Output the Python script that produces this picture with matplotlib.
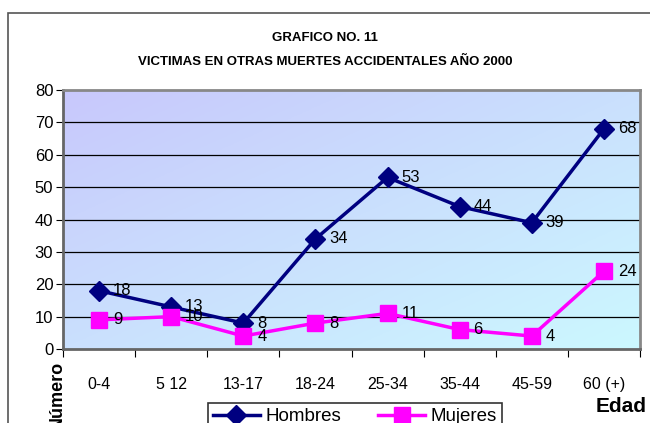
import numpy as np
import matplotlib.pyplot as plt
from matplotlib.colors import LinearSegmentedColormap
from matplotlib.patches import Rectangle

# Data
categories = ["0-4", "5 12", "13-17", "18-24", "25-34", "35-44", "45-59", "60 (+)"]
hombres = [18, 13, 8, 34, 53, 44, 39, 68]
mujeres = [9, 10, 4, 8, 11, 6, 4, 24]

fig = plt.figure(figsize=(6.5, 4.23), dpi=100)
fig.patch.set_facecolor("white")

# Outer chart border (cut at bottom and right)
fig.add_artist(Rectangle((8 / 650, -0.1), 1.2, 1 - 13 / 423 + 0.1,
                         transform=fig.transFigure, fill=False,
                         edgecolor="#555555", linewidth=1.2))

ax = fig.add_axes([63 / 650, 1 - 349 / 423, 577 / 650, 259 / 423])

x = np.arange(len(categories))
ax.set_xlim(-0.5, len(categories) - 0.5)
ax.set_ylim(0, 80)

# Diagonal gradient background: lavender top-left -> light cyan bottom-right
gx, gy = np.meshgrid(np.linspace(0, 1, 200), np.linspace(0, 1, 200))
grad = (gx + gy) / 2
cmap = LinearSegmentedColormap.from_list("bg", ["#C8C8FC", "#CCF8FF"])
ax.imshow(grad, extent=[-0.5, len(categories) - 0.5, 0, 80], origin="upper",
          aspect="auto", cmap=cmap, zorder=0)

# Gridlines
for v in range(10, 80, 10):
    ax.axhline(v, color="black", linewidth=0.9, zorder=1)

ax.plot(x, hombres, color="#000080", linewidth=2.5, marker="D",
        markersize=10, label="Hombres", zorder=3)
ax.plot(x, mujeres, color="#FF00FF", linewidth=2.5, marker="s",
        markersize=12, label="Mujeres", zorder=3)

for xi, v in zip(x, hombres):
    ax.annotate(str(v), (xi, v), xytext=(10, 0), textcoords="offset points",
                fontsize=12, va="center", ha="left", family="Liberation Sans")
for xi, v in zip(x, mujeres):
    ax.annotate(str(v), (xi, v), xytext=(10, 0), textcoords="offset points",
                fontsize=12, va="center", ha="left", family="Liberation Sans")

ax.set_yticks(range(0, 81, 10))
ax.set_yticklabels([str(v) for v in range(0, 81, 10)], fontsize=12,
                   family="Liberation Sans")
ax.set_xticks(np.arange(-0.5, len(categories), 1))
ax.set_xticklabels([])
ax.set_xticks(x, minor=True)
ax.set_xticklabels(categories, minor=True, fontsize=11.5, family="Liberation Sans")
ax.tick_params(axis="x", which="major", length=6, direction="out", color="black")
ax.tick_params(axis="x", which="minor", length=0, pad=20)
ax.tick_params(axis="y", length=5, direction="out", color="black", pad=2)

for side in ["top", "right"]:
    ax.spines[side].set_color("#888888")
    ax.spines[side].set_linewidth(2)
ax.spines["left"].set_color("#666666")
ax.spines["left"].set_linewidth(2)
ax.spines["bottom"].set_color("#666666")
ax.spines["bottom"].set_linewidth(2)

fig.text(0.5, 1 - 38 / 423, "GRAFICO NO. 11", ha="center", va="center",
         fontsize=9.5, fontweight="bold", family="Liberation Sans")
fig.text(0.5, 1 - 62 / 423, "VICTIMAS EN OTRAS MUERTES ACCIDENTALES AÑO 2000",
         ha="center", va="center", fontsize=9.5, fontweight="bold",
         family="Liberation Sans")

fig.text(57 / 650, 1 - 395 / 423, "Número", rotation=90, ha="center",
         va="center", fontsize=13, fontweight="bold", family="Liberation Sans")
fig.text(621 / 650, 1 - 406 / 423, "Edad", ha="center", va="center",
         fontsize=15, fontweight="bold", family="Liberation Sans")

leg = fig.legend(loc="upper center", bbox_to_anchor=(355 / 650, 1 - 394 / 423),
                 ncol=2, frameon=True, fancybox=False, edgecolor="black",
                 prop={"family": "Liberation Sans", "size": 13.5},
                 handlelength=2.5, columnspacing=2.0, borderpad=0.25,
                 handletextpad=0.3)
leg.get_frame().set_linewidth(1.2)

fig.savefig("out.png", dpi=100)
